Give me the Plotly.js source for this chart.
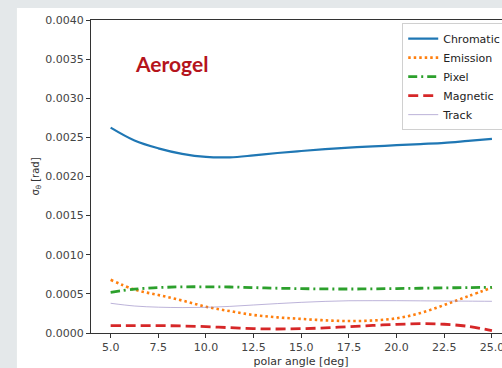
<!DOCTYPE html>
<html>
<head>
<meta charset="utf-8">
<script src="https://cdn.plot.ly/plotly-3.0.1.min.js"></script>
<style>
html,body{margin:0;padding:0;overflow:hidden;background:rgb(228,232,234);}
#chart{width:511px;height:368px;}
</style>
</head>
<body>
<div id="chart"></div>
<script>
// polar angle [deg]
var angle = [5, 6.25, 7.5, 8.75, 10, 11.25, 12.5, 13.75, 15, 16.25, 17.5, 18.75, 20, 21.25, 22.5, 23.75, 25];
var chromatic = [0.002624, 0.00246, 0.00236, 0.00229, 0.00225, 0.002245, 0.00227, 0.0023, 0.002326, 0.00235, 0.00237, 0.002385, 0.0024, 0.002415, 0.00243, 0.002455, 0.00248];
var emission = [0.00068, 0.000555, 0.000486, 0.000415, 0.000336, 0.00028, 0.00023, 0.0002, 0.00018, 0.000162, 0.000153, 0.00016, 0.000188, 0.000255, 0.000358, 0.00047, 0.00058];
var pixel = [0.00052, 0.00056, 0.00058, 0.00059, 0.00059, 0.000588, 0.00058, 0.000572, 0.000567, 0.000563, 0.000562, 0.000564, 0.000568, 0.000572, 0.000577, 0.00058, 0.000584];
var magnetic = [0.000094, 0.000095, 0.000094, 0.00009, 0.000081, 0.000068, 0.000056, 0.000051, 0.000055, 0.000066, 0.000081, 0.000097, 0.00011, 0.000119, 0.000112, 0.000085, 0.00003];
var track = [0.00038, 0.000345, 0.00033, 0.000325, 0.000328, 0.00034, 0.000358, 0.000376, 0.000392, 0.000404, 0.000412, 0.000413, 0.000413, 0.000411, 0.000409, 0.000407, 0.000405];
var seriesNames = ["Chromatic", "Emission", "Pixel", "Magnetic", "Track"];
var xTickVals = [5, 7.5, 10, 12.5, 15, 17.5, 20, 22.5, 25];
var yTickVals = [0, 0.0005, 0.001, 0.0015, 0.002, 0.0025, 0.003, 0.0035, 0.004];
var labelText = "Aerogel";

var traces = [
  {x: angle, y: chromatic, name: seriesNames[0], mode: "lines",
   line: {color: "#1f77b4", width: 2.2, shape: "spline"}},
  {x: angle, y: emission, name: seriesNames[1], mode: "lines",
   line: {color: "#ff7f0e", width: 2.6, dash: "2.5px,3px", shape: "spline"}},
  {x: angle, y: pixel, name: seriesNames[2], mode: "lines",
   line: {color: "#2ca02c", width: 2.8, dash: "9px,4px,2px,4px", shape: "spline"}},
  {x: angle, y: magnetic, name: seriesNames[3], mode: "lines",
   line: {color: "#d62728", width: 2.8, dash: "10px,5px", shape: "spline"}},
  {x: angle, y: track, name: seriesNames[4], mode: "lines",
   line: {color: "#8f7fbf", width: 0.6, shape: "spline"}}
];

var fnt = "DejaVu Sans, sans-serif";
var layout = {
  width: 511, height: 368,
  margin: {l: 91, r: 0, t: 20, b: 35},
  paper_bgcolor: "rgb(228,232,234)",
  plot_bgcolor: "#ffffff",
  showlegend: true,
  font: {family: fnt, size: 11, color: "#333"},
  xaxis: {
    range: [3.97, 26], tickvals: xTickVals, ticktext: xTickVals.map(function(v){return v.toFixed(1);}),
    showgrid: false, zeroline: false, showline: true, linecolor: "#333", linewidth: 1, mirror: true,
    ticks: "outside", ticklen: 4, tickcolor: "#333",
    tickfont: {family: fnt, size: 11, color: "#444"},
    title: {text: "polar angle [deg]", font: {family: fnt, size: 11, color: "#333"}}
  },
  yaxis: {
    range: [0, 0.004], tickvals: yTickVals, ticktext: yTickVals.map(function(v){return v.toFixed(4);}),
    showgrid: false, zeroline: false, showline: true, linecolor: "#333", linewidth: 1, mirror: true,
    ticks: "outside", ticklen: 4, tickcolor: "#333",
    tickfont: {family: fnt, size: 11, color: "#444"},
    title: {text: "σ<sub>θ</sub> [rad]", font: {family: fnt, size: 10, color: "#333"}}
  },
  legend: {
    x: 0.741, y: 0.99, xanchor: "left", yanchor: "top",
    bgcolor: "rgba(255,255,255,0.85)", bordercolor: "#d0d0d0", borderwidth: 1,
    font: {family: fnt, size: 11, color: "#222"}, tracegroupgap: 0
  },
  shapes: [{
    type: "rect", xref: "paper", yref: "paper", layer: "below",
    x0: -0.1764, x1: 1.2, y0: -0.3, y1: 1.0383,
    fillcolor: "#ffffff", line: {width: 0}
  }],
  annotations: [{
    x: 8.2, y: 0.003438, xref: "x", yref: "y", text: "<b>" + labelText + "</b>",
    showarrow: false, xanchor: "center", yanchor: "middle",
    font: {family: "Lato, sans-serif", size: 21, color: "#b5141c"}
  }]
};

Plotly.newPlot("chart", traces, layout, {displayModeBar: false, staticPlot: true});
</script>
</body>
</html>
